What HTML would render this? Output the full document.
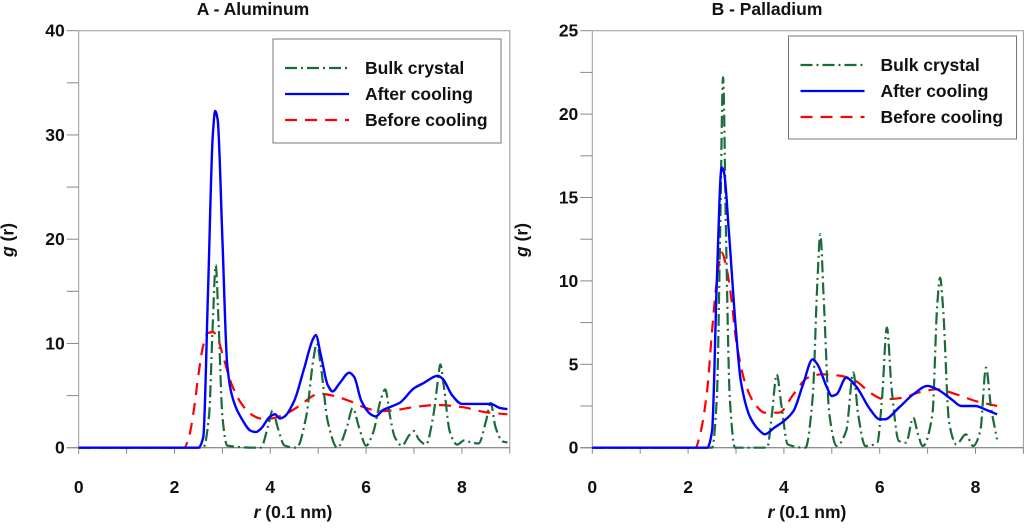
<!DOCTYPE html>
<html><head><meta charset="utf-8"><style>
body{margin:0;background:#fff;}
svg text{font-family:"Liberation Sans",sans-serif;font-weight:bold;fill:#111;}
</style></head><body>
<svg id="chart" width="1024" height="523" viewBox="0 0 1024 523" xmlns="http://www.w3.org/2000/svg"></svg>
<script>
const xTicks=[0,2,4,6,8];
const alYTicks=[0,10,20,30,40];
const pdYTicks=[0,5,10,15,20,25];
const alBulk=[[0,0],[2.6,0],[2.72,3],[2.8,12],[2.86,17.5],[2.92,12],[3.0,3],[3.1,0.2],[3.8,0],[3.95,2],[4.05,3.6],[4.15,2],[4.3,0.2],[4.55,0],[4.75,3],[4.9,8.5],[4.97,10],[5.05,8],[5.2,2.5],[5.4,0],[5.6,2],[5.72,3.8],[5.85,2],[6.0,0.2],[6.15,1.5],[6.3,4.5],[6.4,5.6],[6.5,3],[6.6,1],[6.75,0.2],[6.9,1.2],[7.0,1.6],[7.1,0.8],[7.25,0.3],[7.4,3],[7.5,6.5],[7.55,8],[7.62,6],[7.75,1.5],[7.9,0.3],[8.05,0.7],[8.2,0.5],[8.35,0.4],[8.5,2.5],[8.6,4.3],[8.7,2],[8.85,0.6],[8.95,0.5]];
const alAfter=[[0,0],[2.5,0],[2.6,1],[2.7,15],[2.8,30],[2.85,32.3],[2.9,31.5],[3.0,20],[3.1,8],[3.2,5],[3.4,2.8],[3.6,1.6],[3.7,1.5],[3.8,1.8],[4.0,3.0],[4.1,3.2],[4.2,2.8],[4.3,3.0],[4.5,4.5],[4.7,7.5],[4.9,10.5],[4.95,10.8],[5.05,9],[5.2,6],[5.3,5.4],[5.45,6.2],[5.65,7.2],[5.75,6.8],[5.9,4.5],[6.1,3.2],[6.2,3.0],[6.35,3.6],[6.5,3.9],[6.7,4.3],[7.0,5.7],[7.2,6.2],[7.5,6.9],[7.6,6.6],[7.8,5.0],[8.0,4.2],[8.3,4.2],[8.6,4.2],[8.8,3.8],[8.95,3.7]];
const alBefore=[[0,0],[2.2,0],[2.3,1],[2.4,3.5],[2.5,7],[2.6,9.8],[2.7,11],[2.8,11.1],[2.9,10.5],[3.0,9],[3.2,6],[3.4,4.2],[3.6,3.2],[3.8,2.8],[4.0,2.8],[4.3,3.2],[4.6,4.0],[4.9,5.0],[5.0,5.2],[5.3,5.0],[5.7,4.4],[6.0,3.8],[6.3,3.5],[6.6,3.6],[7.0,3.9],[7.5,4.1],[8.0,3.9],[8.5,3.4],[8.95,3.2]];
const pdBulk=[[0,0],[2.5,0],[2.6,3],[2.67,13],[2.73,22.2],[2.79,13],[2.87,3],[2.98,0],[3.65,0],[3.75,2],[3.85,4.4],[3.95,2.5],[4.08,0.2],[4.45,0],[4.6,3],[4.7,10],[4.76,12.8],[4.83,9],[4.95,2],[5.1,0.1],[5.3,1],[5.45,4.5],[5.55,2],[5.7,0.1],[5.95,0.3],[6.05,3],[6.15,7.2],[6.25,3.5],[6.4,0.4],[6.55,0.3],[6.7,1.8],[6.8,0.8],[6.9,0.1],[7.1,2],[7.2,8.5],[7.26,10.2],[7.32,8.5],[7.45,1.5],[7.6,0.2],[7.8,0.8],[7.95,0.1],[8.1,1],[8.22,4.8],[8.32,2.5],[8.45,0.5]];
const pdAfter=[[0,0],[2.4,0],[2.5,1],[2.6,10],[2.7,16.8],[2.75,16.5],[2.85,13],[3.0,7],[3.1,4],[3.3,1.8],[3.5,1.0],[3.6,0.8],[3.8,1.2],[4.0,1.6],[4.2,2.2],[4.4,3.8],[4.6,5.3],[4.7,5.0],[4.9,3.6],[5.0,3.1],[5.1,3.2],[5.3,4.2],[5.5,3.7],[5.8,2.3],[6.0,1.7],[6.1,1.7],[6.4,2.4],[6.7,3.2],[7.0,3.7],[7.2,3.5],[7.5,2.9],[7.7,2.5],[8.0,2.5],[8.2,2.3],[8.45,2.0]];
const pdBefore=[[0,0],[2.15,0],[2.25,0.8],[2.4,3.5],[2.5,7],[2.6,10],[2.7,11.7],[2.8,10.8],[2.9,9],[3.0,6.5],[3.2,3.8],[3.4,2.6],[3.6,2.1],[3.9,2.1],[4.2,3.2],[4.5,4.2],[4.8,4.4],[5.2,4.3],[5.5,4.0],[5.8,3.3],[6.1,2.9],[6.5,3.0],[6.8,3.3],[7.2,3.5],[7.6,3.2],[8.0,2.8],[8.45,2.5]];
const legendLabels=["Bulk crystal","After cooling","Before cooling"];

const NS="http://www.w3.org/2000/svg";
const svg=document.getElementById('chart');
function mk(tag,attrs,parent){const e=document.createElementNS(NS,tag);for(const k in attrs)e.setAttribute(k,attrs[k]);(parent||svg).appendChild(e);return e;}
const styles=[
 {stroke:"#1b6b3a",dash:"12 4 2 4"},
 {stroke:"#0000ff",dash:""},
 {stroke:"#ff0000",dash:"12 8"}];
// monotone cubic (Fritsch-Carlson), points in pixel space, x increasing
function smooth(p){const n=p.length,d=[],m=[];
 for(let i=0;i<n-1;i++)d.push((p[i+1][1]-p[i][1])/(p[i+1][0]-p[i][0]));
 m[0]=d[0];m[n-1]=d[n-2];
 for(let i=1;i<n-1;i++){ if(d[i-1]*d[i]<=0)m[i]=0; else {const h0=p[i][0]-p[i-1][0],h1=p[i+1][0]-p[i][0];const w1=2*h1+h0,w2=h1+2*h0;m[i]=(w1+w2)/(w1/d[i-1]+w2/d[i]);}}
 let s="M"+p[0][0].toFixed(2)+","+p[0][1].toFixed(2);
 for(let i=0;i<n-1;i++){const h=(p[i+1][0]-p[i][0])/3;
  s+=" C"+(p[i][0]+h).toFixed(2)+","+(p[i][1]+m[i]*h).toFixed(2)+" "+(p[i+1][0]-h).toFixed(2)+","+(p[i+1][1]-m[i+1]*h).toFixed(2)+" "+p[i+1][0].toFixed(2)+","+p[i+1][1].toFixed(2);}
 return s;}
function panel(key,x0,title,titleX,xlX,ymax,yTicks,minorStep,series,legBox){
 const x1=x0+9*47.9,yTop=30.7,yBot=447.7;
 const sx=v=>x0+v*47.9, sy=v=>yBot-v/ymax*(yBot-yTop);
 const g=mk('g',{});
 
 
 const t=mk('text',{x:titleX,y:15,'text-anchor':'middle','font-size':17.5},g);t.textContent=title;
 
 
 mk('path',{d:`M${x0},${yTop}H${x1}V${yBot}`,stroke:'#999',fill:'none','stroke-width':1},g);
 const ya=mk('line',{x1:x0,y1:yTop,x2:x0,y2:yBot,stroke:'#999'},g);
 
 
 const xa=mk('line',{x1:x0-12,y1:yBot,x2:x1,y2:yBot,stroke:'#666'},g);
 
 
 for(let v=0;v<=ymax+1e-6;v+=minorStep){mk('line',{x1:x0-12,y1:sy(v),x2:x0,y2:sy(v),stroke:'#888'},g);}
 yTicks.forEach(v=>{const e=mk('text',{x:x0-14,y:sy(v)+6,'text-anchor':'end','font-size':17.5},g);e.textContent=v;
  
  });
 for(let v=0;v<=9;v++){mk('line',{x1:sx(v),y1:yBot,x2:sx(v),y2:yBot+6,stroke:'#888'},g);}
 xTicks.forEach(v=>{const e=mk('text',{x:sx(v),y:493,'text-anchor':'middle','font-size':17.5},g);e.textContent=v;
  
  });
 const xl=mk('text',{x:xlX,y:518,'text-anchor':'middle','font-size':17.5},g);
 xl.innerHTML='<tspan font-style="italic">r</tspan> (0.1 nm)';
 
 
 const yl=mk('text',{x:0,y:0,'text-anchor':'middle','font-size':17.5,transform:`translate(${x0-65},240) rotate(-90)`},g);
 yl.innerHTML='<tspan font-style="italic">g</tspan> (r)';
 
 
 const names=['bulk-crystal','after-cooling','before-cooling'];
 [2,0,1].forEach(i=>{const pts=series[i].map(p=>[sx(p[0]),sy(p[1])]);
  const p=mk('path',{d:smooth(pts),fill:'none',stroke:styles[i].stroke,'stroke-width':i==1?2.4:2.2,'stroke-dasharray':styles[i].dash},g);
  
  });
 const lg=mk('g',{},g);
 
 
 mk('rect',{x:legBox[0],y:legBox[1],width:legBox[2],height:legBox[3],fill:'#fff',stroke:'#777'},lg);
 legendLabels.forEach((lab,i)=>{const yy=legBox[1]+29+i*26;
  mk('line',{x1:legBox[0]+12,y1:yy,x2:legBox[0]+76,y2:yy,stroke:styles[i].stroke,'stroke-width':2.2,'stroke-dasharray':styles[i].dash},lg);
  const e=mk('text',{x:legBox[0]+92,y:yy+6,'font-size':17.5},lg);e.textContent=lab;
  
  });
}
panel('aluminum',78.7,'A - Aluminum',253,293,40,alYTicks,5,[alBulk,alAfter,alBefore],[273,39,228,104]);
panel('palladium',592.3,'B - Palladium',767,807,25,pdYTicks,2.5,[pdBulk,pdAfter,pdBefore],[788.5,36,228,103]);
</script>
</body></html>
